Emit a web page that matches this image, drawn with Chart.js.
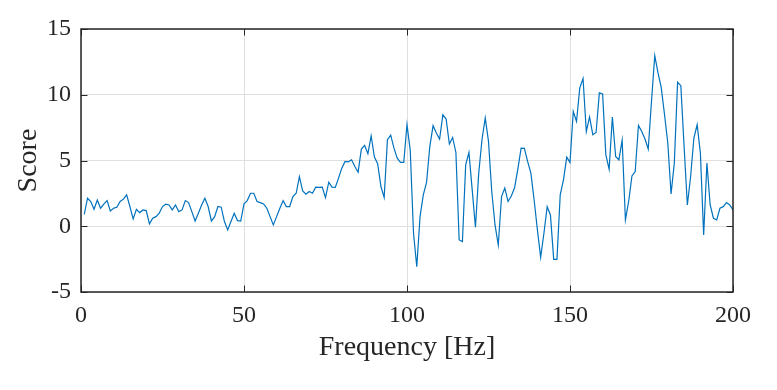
<!DOCTYPE html>
<html>
<head>
<meta charset="utf-8">
<script src="https://cdn.jsdelivr.net/npm/chart.js@4.4.1/dist/chart.umd.min.js"></script>
<style>
html,body{margin:0;padding:0;background:#fff;}
#wrap{width:777px;height:390px;}
</style>
</head>
<body>
<div id="wrap"><canvas id="c" width="777" height="390"></canvas></div>
<script>
const frequencies = [
  1,2,3,4,5,6,7,8,9,10,11,12,13,14,15,16,17,18,19,20,
  21,22,23,24,25,26,27,28,29,30,31,32,33,34,35,36,37,38,39,40,
  41,42,43,44,45,46,47,48,49,50,51,52,53,54,55,56,57,58,59,60,
  61,62,63,64,65,66,67,68,69,70,71,72,73,74,75,76,77,78,79,80,
  81,82,83,84,85,86,87,88,89,90,91,92,93,94,95,96,97,98,99,100,
  101,102,103,104,105,106,107,108,109,110,111,112,113,114,115,116,117,118,119,120,
  121,122,123,124,125,126,127,128,129,130,131,132,133,134,135,136,137,138,139,140,
  141,142,143,144,145,146,147,148,149,150,151,152,153,154,155,156,157,158,159,160,
  161,162,163,164,165,166,167,168,169,170,171,172,173,174,175,176,177,178,179,180,
  181,182,183,184,185,186,187,188,189,190,191,192,193,194,195,196,197,198,199,200
];
const scores = [
  0.91,2.13,1.88,1.29,2.00,1.37,1.68,1.95,1.17,1.37,1.45,1.88,2.06,2.39,1.50,0.56,1.29,1.04,1.24,1.19,
  0.18,0.61,0.73,1.00,1.50,1.68,1.62,1.24,1.62,1.11,1.24,1.95,1.80,1.11,0.40,0.99,1.62,2.13,1.50,0.40,
  0.73,1.50,1.45,0.36,-0.28,0.36,0.99,0.43,0.40,1.70,1.95,2.51,2.51,1.88,1.80,1.70,1.37,0.73,0.10,0.73,
  1.37,1.95,1.50,1.50,2.26,2.51,3.78,2.68,2.44,2.64,2.51,2.97,2.95,2.97,2.18,3.35,2.97,2.95,3.66,4.42,
  4.93,4.90,5.05,4.54,4.11,5.87,6.15,5.51,6.88,5.26,4.75,3.02,2.18,6.58,6.93,5.94,5.18,4.85,4.85,7.72,
  5.75,-0.53,-3.08,0.73,2.39,3.33,6.07,7.65,7.09,6.63,8.48,8.15,6.25,6.75,5.61,-1.04,-1.17,4.67,5.61,2.77,
  -0.08,4.04,6.58,8.23,6.45,2.64,0.10,-1.43,2.26,2.90,1.88,2.30,2.93,4.35,5.94,5.92,4.93,4.04,2.00,-0.28,
  -2.36,-0.53,1.49,0.86,-2.52,-2.52,2.39,3.53,5.26,4.85,8.73,7.97,10.52,11.23,7.21,8.31,6.96,7.13,10.14,10.06,
  5.43,4.34,8.31,5.31,5.05,6.55,0.48,1.90,3.83,4.16,7.67,7.21,6.63,5.87,9.50,12.98,11.66,10.52,8.48,6.33,
  2.46,4.80,10.95,10.69,6.07,1.62,3.78,6.71,7.72,5.56,-0.66,4.80,1.62,0.61,0.48,1.37,1.49,1.80,1.62,1.24
];
const xTickValues = [0, 50, 100, 150, 200];
const yTickValues = [-5, 0, 5, 10, 15];
const xLabel = 'Frequency [Hz]';
const yLabel = 'Score';

const FONT = '"Liberation Serif", "Times New Roman", serif';
const INK = '#262626';

const points = frequencies.map((f, i) => ({x: f, y: scores[i]}));

const frame = {
  id: 'frame',
  afterDatasetsDraw(chart) {
    const {ctx, chartArea: a, scales: {x, y}} = chart;
    ctx.save();
    ctx.strokeStyle = INK;
    ctx.lineWidth = 1;
    const L = 6.5;
    ctx.beginPath();
    xTickValues.forEach(v => {
      const px = Math.round(x.getPixelForValue(v)) + 0.5;
      ctx.moveTo(px, a.bottom); ctx.lineTo(px, a.bottom - L);
      ctx.moveTo(px, a.top); ctx.lineTo(px, a.top + L);
    });
    yTickValues.forEach(v => {
      const py = Math.round(y.getPixelForValue(v)) + 0.5;
      ctx.moveTo(a.left, py); ctx.lineTo(a.left + L, py);
      ctx.moveTo(a.right, py); ctx.lineTo(a.right - L, py);
    });
    ctx.stroke();
    ctx.lineWidth = 1.5;
    ctx.strokeRect(a.left, a.top, a.right - a.left, a.bottom - a.top);
    ctx.restore();
  }
};

new Chart(document.getElementById('c'), {
  type: 'line',
  data: {
    datasets: [{
      data: points,
      borderColor: '#0072BD',
      borderWidth: 1.2,
      pointRadius: 0,
      tension: 0,
      fill: false
    }]
  },
  options: {
    responsive: false,
    animation: false,
    layout: {padding: {top: 29, right: 44, bottom: 0, left: 0}},
    plugins: {legend: {display: false}, tooltip: {enabled: false}},
    scales: {
      x: {
        type: 'linear', min: 0, max: 200,
        afterBuildTicks(s) { s.ticks = xTickValues.map(v => ({value: v})); },
        ticks: {font: {family: FONT, size: 24}, color: INK, padding: 9, maxRotation: 0, autoSkip: false},
        grid: {color: '#dfdfdf', drawTicks: false},
        border: {display: false},
        title: {display: true, text: xLabel, font: {family: FONT, size: 28}, color: INK, padding: {top: 0, bottom: 26}},
        afterFit(s) { s.height = 98; }
      },
      y: {
        type: 'linear', min: -5, max: 15,
        afterBuildTicks(s) { s.ticks = yTickValues.map(v => ({value: v})); },
        ticks: {font: {family: FONT, size: 24}, color: INK, padding: 10},
        grid: {color: '#dfdfdf', drawTicks: false},
        border: {display: false},
        title: {display: true, text: yLabel, font: {family: FONT, size: 28}, color: INK, padding: {top: 12, bottom: 0}},
        afterFit(s) { s.width = 81; }
      }
    }
  },
  plugins: [frame]
});
</script>
</body>
</html>
